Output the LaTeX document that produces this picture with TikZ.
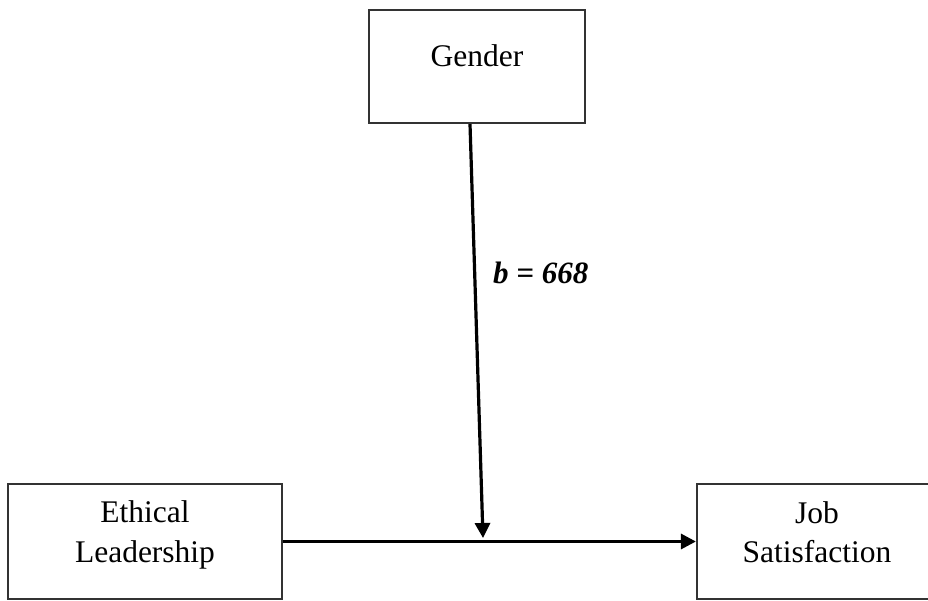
\documentclass[tikz,border=0pt]{standalone}
\usepackage{fontspec}
\setmainfont{Liberation Serif}
\usetikzlibrary{arrows.meta}

\tikzset{
  varbox/.style={draw=black!80, line width=2.2pt, fill=white, inner sep=0pt},
  boxtext/.style={font=\fontsize{31.5}{39.5}\selectfont, align=center, inner sep=0pt},
  pathlink/.style={line width=3.2pt, -{Triangle[length=15pt,width=15pt]}},
  coeff/.style={font=\fontsize{31}{37}\selectfont\bfseries\itshape, inner sep=0pt}
}

\begin{document}
\begin{tikzpicture}[x=1pt, y=-1pt]
  \clip (0,0) rectangle (928,601);
  \useasboundingbox (0,0) rectangle (928,601);
  \fill[white] (0,0) rectangle (928,601);

  % variable boxes
  \node[varbox, minimum width=216pt, minimum height=113pt] (gender) at (477,66.5) {};
  \node[varbox, minimum width=274pt, minimum height=115pt] (ethical) at (145,541.5) {};
  \node[varbox, minimum width=240pt, minimum height=115pt] (job) at (817,541.5) {};

  % box captions
  \node[boxtext, anchor=base] (gendertext) at (477,67) {Gender};
  \node[boxtext] (ethicaltext) at (145,535) {Ethical\\Leadership};
  \node[boxtext] (jobtext) at (817,532) {Job\\Satisfaction};

  % direct path and moderating path
  \coordinate (mod) at (483,538);
  \draw[pathlink] (ethical.east) -- (job.west);
  \draw[pathlink] ([xshift=-7pt]gender.south) -- (mod);

  % path coefficient
  \node[coeff, anchor=west] (coefb) at (493,273) {b = 668};
\end{tikzpicture}
\end{document}
